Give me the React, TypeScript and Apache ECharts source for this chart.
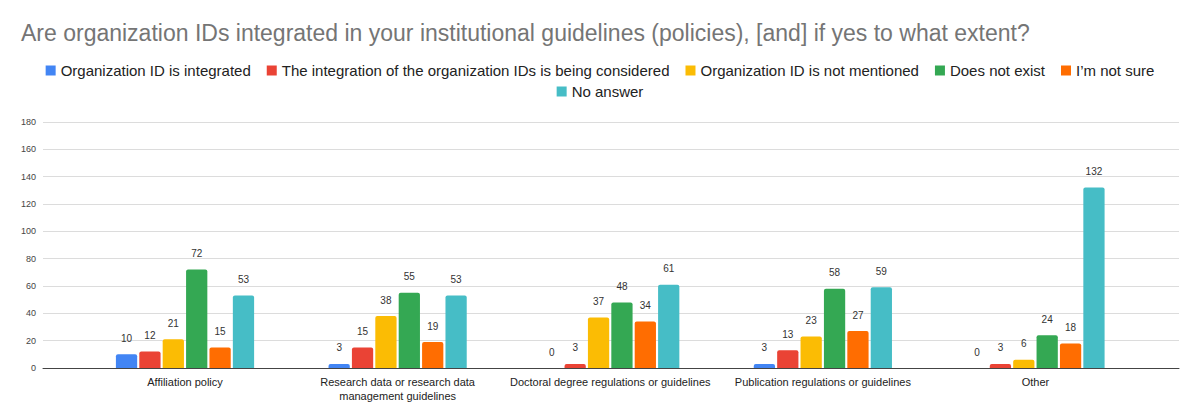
import React, { useEffect, useRef } from "react";
import * as echarts from "echarts";

const titleText =
  "Are organization IDs integrated in your institutional guidelines (policies), [and] if yes to what extent?";

const categories = [
  "Affiliation policy",
  "Research data or research data\nmanagement guidelines",
  "Doctoral degree regulations or guidelines",
  "Publication regulations or guidelines",
  "Other",
];

const seriesNames = [
  "Organization ID is integrated",
  "The integration of the organization IDs is being considered",
  "Organization ID is not mentioned",
  "Does not exist",
  "I’m not sure",
  "No answer",
];

const seriesColors = ["#4285F4", "#EA4335", "#FBBC04", "#34A853", "#FF6D01", "#46BDC6"];

const integrated = [10, 3, 0, 3, 0];
const considered = [12, 15, 3, 13, 3];
const notMentioned = [21, 38, 37, 23, 6];
const doesNotExist = [72, 55, 48, 58, 24];
const notSure = [15, 19, 34, 27, 18];
const noAnswer = [53, 53, 61, 59, 132];

const seriesValues = [integrated, considered, notMentioned, doesNotExist, notSure, noAnswer];

const yTicks = { min: 0, max: 180, interval: 20 };

const FONT = "'Liberation Sans', Arial, sans-serif";

export default function App() {
  const ref = useRef<HTMLDivElement>(null);

  useEffect(() => {
    document.body.style.margin = "0";
    if (!ref.current) return;
    const chart = echarts.init(ref.current, null, { renderer: "svg" });

    const legendBase = {
      left: "center",
      padding: 0,
      icon: "rect",
      itemWidth: 10,
      itemHeight: 10,
      itemGap: 16,
      textStyle: { fontFamily: FONT, fontSize: 15, color: "#222222" },
    };

    const option: any = {
      animation: false,
      backgroundColor: "#ffffff",
      textStyle: { fontFamily: FONT },
      title: {
        text: titleText,
        left: 21,
        top: 21,
        padding: 0,
        textStyle: { fontFamily: FONT, fontSize: 23, fontWeight: "normal", color: "#757575" },
      },
      legend: [
        { ...legendBase, data: seriesNames.slice(0, 5), top: 63 },
        { ...legendBase, data: seriesNames.slice(5), top: 84 },
      ],
      grid: [
        { left: 43, right: 21, top: 122, bottom: 52 },
        { left: 78.7, right: 58.2, top: 122, bottom: 52 },
      ],
      xAxis: [
        {
          gridIndex: 0,
          type: "value",
          min: 0,
          max: 1,
          axisLine: { show: true, lineStyle: { color: "#444444", width: 1 } },
          axisTick: { show: false },
          axisLabel: { show: false },
          splitLine: { show: false },
        },
        {
          gridIndex: 1,
          type: "category",
          data: categories,
          axisLine: { show: false },
          axisTick: { show: false },
          axisLabel: {
            fontFamily: FONT,
            fontSize: 11,
            color: "#222222",
            margin: 7,
            lineHeight: 14,
            interval: 0,
          },
        },
      ],
      yAxis: [
        {
          gridIndex: 0,
          type: "value",
          min: yTicks.min,
          max: yTicks.max,
          interval: yTicks.interval,
          axisLine: { show: false },
          axisTick: { show: false },
          axisLabel: { fontFamily: FONT, fontSize: 9, color: "#444444", margin: 7 },
          splitLine: { show: true, lineStyle: { color: "#dcdcdc", width: 1 } },
        },
        {
          gridIndex: 1,
          type: "value",
          min: yTicks.min,
          max: yTicks.max,
          interval: yTicks.interval,
          show: false,
          splitLine: { show: false },
        },
      ],
      series: seriesNames.map((name, i) => ({
        name,
        type: "bar",
        xAxisIndex: 1,
        yAxisIndex: 1,
        data: seriesValues[i],
        barCategoryGap: "35%",
        barGap: "10%",
        itemStyle: { color: seriesColors[i], borderRadius: [2, 2, 0, 0] },
        label: {
          show: true,
          position: "top",
          distance: 11,
          fontFamily: FONT,
          fontSize: 10,
          color: "#333333",
        },
      })),
    };

    chart.setOption(option);
    return () => chart.dispose();
  }, []);

  return <div ref={ref} style={{ width: 1200, height: 420 }} />;
}
